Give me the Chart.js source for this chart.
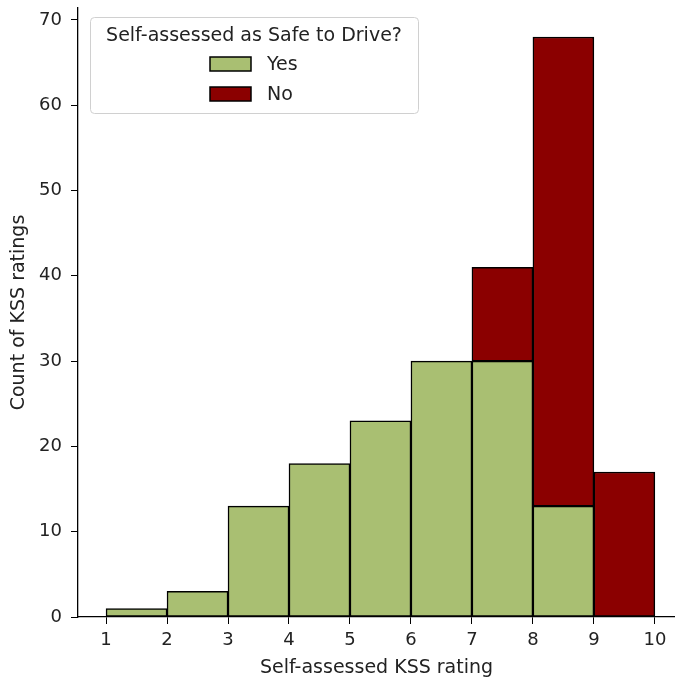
<!DOCTYPE html>
<html>
<head>
<meta charset="utf-8">
<script src="https://cdn.jsdelivr.net/npm/chart.js@4"></script>
<style>
  html, body { margin: 0; padding: 0; background: #fff; overflow: hidden; }
  #chart { display: block; }
</style>
</head>
<body>
<canvas id="chart" width="675" height="679"></canvas>
<script>
// bin centres (bins 1-2, 2-3, ... 9-10)
const binCenters = [1.5, 2.5, 3.5, 4.5, 5.5, 6.5, 7.5, 8.5, 9.5];
const yesCounts = [1, 3, 13, 18, 23, 30, 30, 13, 0];
const noCounts = [0, 0, 0, 0, 0, 0, 11, 55, 17];
const xTicks = [1, 2, 3, 4, 5, 6, 7, 8, 9, 10];
const yTicks = [0, 10, 20, 30, 40, 50, 60, 70];

const legendTitle = 'Self-assessed as Safe to Drive?';
const seriesNames = ['Yes', 'No'];
const colYes = '#a9bf72';
const colNo = '#8b0000';

const FONT = "'DejaVu Sans', sans-serif";
Chart.defaults.font.family = FONT;
Chart.defaults.color = '#222';

function toPoints(vals) {
  return binCenters.map((c, i) => ({ x: c, y: vals[i] }));
}

// matplotlib style legend box inside the axes
const boxLegend = {
  id: 'boxLegend',
  afterDraw(chart) {
    const ctx = chart.ctx;
    const a = chart.chartArea;
    const x0 = a.left + 12, y0 = 17, w = 328, h = 96;
    ctx.save();
    ctx.beginPath();
    ctx.roundRect(x0 + 0.5, y0 + 0.5, w, h, 4);
    ctx.fillStyle = 'rgba(255,255,255,0.8)';
    ctx.fill();
    ctx.strokeStyle = '#d0d0d0';
    ctx.lineWidth = 1;
    ctx.stroke();

    ctx.fillStyle = '#222';
    ctx.font = '19px ' + FONT;
    ctx.textAlign = 'center';
    ctx.textBaseline = 'middle';
    ctx.fillText(legendTitle, x0 + w / 2, y0 + 19);

    const ds = chart.data.datasets;
    ctx.textAlign = 'left';
    for (let i = 0; i < ds.length; i++) {
      const cy = y0 + 47 + i * 30;
      ctx.fillStyle = ds[i].backgroundColor;
      ctx.fillRect(x0 + 120, cy - 7, 41, 14);
      ctx.strokeStyle = '#000';
      ctx.lineWidth = 1.5;
      ctx.strokeRect(x0 + 120, cy - 7, 41, 14);
      ctx.fillStyle = '#222';
      ctx.fillText(ds[i].label, x0 + 177, cy + 1);
    }
    ctx.restore();
  }
};

new Chart(document.getElementById('chart'), {
  type: 'bar',
  data: {
    datasets: [
      { label: seriesNames[0], data: toPoints(yesCounts), backgroundColor: colYes },
      { label: seriesNames[1], data: toPoints(noCounts), backgroundColor: colNo }
    ]
  },
  options: {
    responsive: false,
    animation: false,
    layout: { padding: { top: 8, right: 0, left: 0, bottom: 0 } },
    datasets: {
      bar: {
        barPercentage: 1,
        categoryPercentage: 1,
        borderColor: '#000',
        borderWidth: 1.5,
        borderSkipped: false
      }
    },
    plugins: {
      legend: { display: false },
      tooltip: { enabled: false }
    },
    scales: {
      x: {
        type: 'linear',
        stacked: true,
        offset: false,
        min: 0.54,
        max: 10.33,
        afterBuildTicks: s => { s.ticks = xTicks.map(v => ({ value: v })); },
        afterFit: s => { s.height = 62; s.paddingLeft = 0; s.paddingRight = 0; },
        grid: { offset: false, drawOnChartArea: false, drawTicks: true, tickLength: 7, color: '#000' },
        border: { display: true, color: '#000', width: 1.3 },
        ticks: { font: { size: 18 }, padding: 6, maxRotation: 0, color: '#222' },
        title: { display: true, text: 'Self-assessed KSS rating', font: { size: 19 }, padding: { top: 0, bottom: 0 }, color: '#222' }
      },
      y: {
        stacked: true,
        min: 0,
        max: 71.4,
        afterBuildTicks: s => { s.ticks = yTicks.map(v => ({ value: v })); },
        afterFit: s => { s.width = 78; s.paddingTop = 0; s.paddingBottom = 0; },
        grid: { drawOnChartArea: false, drawTicks: true, tickLength: 7, color: '#000' },
        border: { display: true, color: '#000', width: 1.3 },
        ticks: { font: { size: 18 }, padding: 9, color: '#222' },
        title: { display: true, text: 'Count of KSS ratings', font: { size: 19 }, padding: { top: 8, bottom: 0 }, color: '#222' }
      }
    }
  },
  plugins: [boxLegend]
});
</script>
</body>
</html>
